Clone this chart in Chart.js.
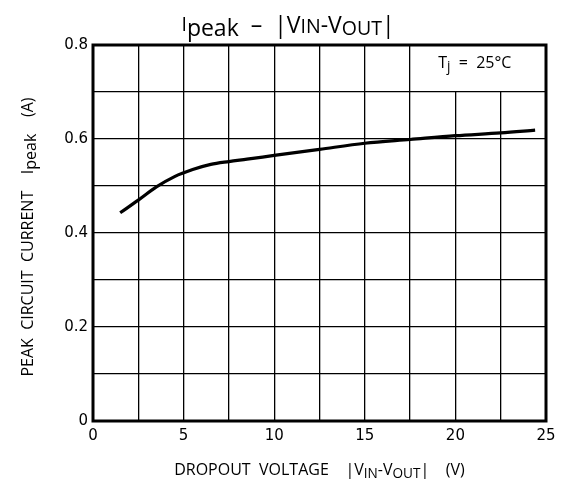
<!DOCTYPE html>
<html>
<head>
  <title>Ipeak - |VIN-VOUT|</title>
  <script src="https://cdn.jsdelivr.net/npm/chart.js"></script>
  <style>
    html, body { margin: 0; padding: 0; background: #fff; }
    #wrap { width: 568px; height: 484px; }
  </style>
</head>
<body>
  <div id="wrap"><canvas id="ipeakChart" width="568" height="484"></canvas></div>

  <script>
    // values
    const dropoutV = [1.5, 2.5, 3.5, 4.5, 5.5, 6.5, 7.5, 8.5, 10, 12.5, 15, 17.5, 20, 22.5, 24.4];
    const ipeakA = [0.443, 0.470, 0.498, 0.520, 0.535, 0.546, 0.552, 0.557, 0.565, 0.578, 0.591, 0.599, 0.607, 0.613, 0.619];
    const xTickLabels = [0, 5, 10, 15, 20, 25];
    const yTickLabels = ['0', '0.2', '0.4', '0.6', '0.8'];
    const TICK_FONT = '"DejaVu Sans", Verdana, sans-serif';
    const FONT = '"Open Sans", "Noto Sans", sans-serif';

    // draws text pieces, some of them as subscripts
    function drawParts(ctx, parts, x, y, size, align) {
      const widths = parts.map(p => {
        ctx.font = (p.sub ? size * 0.85 : size) + 'px ' + FONT;
        return ctx.measureText(p.t).width;
      });
      const total = widths.reduce((a, b) => a + b, 0);
      let cx = align === 'center' ? x - total / 2 : x;
      ctx.textBaseline = 'alphabetic';
      ctx.textAlign = 'left';
      parts.forEach((p, i) => {
        ctx.font = (p.sub ? size * 0.85 : size) + 'px ' + FONT;
        ctx.fillText(p.t, cx, y + (p.dy || 0));
        cx += widths[i];
      });
    }

    const decorations = {
      id: 'decorations',
      beforeDatasetsDraw(chart) {
        // clear grid behind the Tj note
        const { ctx, scales: { x, y } } = chart;
        ctx.save();
        ctx.fillStyle = '#fff';
        const x0 = x.getPixelForValue(17.5) + 1, x1 = x.getPixelForValue(25) - 1;
        const y0 = y.getPixelForValue(0.8) + 1, y1 = y.getPixelForValue(0.7) - 1;
        ctx.fillRect(x0, y0, x1 - x0, y1 - y0);
        ctx.restore();
      },
      afterDraw(chart) {
        const { ctx, chartArea: a, scales: { x, y } } = chart;
        ctx.save();
        ctx.strokeStyle = '#000';
        ctx.lineWidth = 3;
        ctx.strokeRect(a.left, a.top, a.right - a.left, a.bottom - a.top);

        ctx.fillStyle = '#000';
        // title
        drawParts(ctx, [
          { t: 'I', sub: true, dy: -2 }, { t: 'peak', dy: 3 }, { t: '  \u2013  |V' },
          { t: 'IN', sub: true }, { t: '-V' }, { t: 'OUT', sub: true, dy: 2 }, { t: '|' }
        ], 288, 33, 23, 'center');

        // x axis title
        drawParts(ctx, [
          { t: 'DROPOUT  VOLTAGE    |V' }, { t: 'IN', sub: true, dy: 3 }, { t: '-V' },
          { t: 'OUT', sub: true, dy: 3 }, { t: '|    (V)' }
        ], (a.left + a.right) / 2, 475, 16, 'center');

        // y axis title
        ctx.save();
        ctx.translate(33, (a.top + a.bottom) / 2 + 4);
        ctx.rotate(-Math.PI / 2);
        drawParts(ctx, [
          { t: 'PEAK  CIRCUIT  CURRENT    I' }, { t: 'peak', dy: 3 }, { t: '    (A)' }
        ], 0, 0, 16, 'center');
        ctx.restore();

        // Tj note
        drawParts(ctx, [
          { t: 'T' }, { t: 'j', sub: true, dy: 3 }, { t: '  =  25\u00b0C' }
        ], x.getPixelForValue(19.05), y.getPixelForValue(0.752), 16, 'left');
        ctx.restore();
      }
    };

    const ctx = document.getElementById('ipeakChart').getContext('2d');
    new Chart(ctx, {
      type: 'line',
      data: {
        datasets: [{
          data: dropoutV.map((v, i) => ({ x: v, y: ipeakA[i] })),
          borderColor: '#000',
          borderWidth: 3.2,
          pointRadius: 0,
          cubicInterpolationMode: 'monotone',
          fill: false
        }]
      },
      options: {
        responsive: false,
        animation: false,
        layout: { padding: { left: 30, top: 45, right: 22, bottom: 13 } },
        plugins: { legend: { display: false }, tooltip: { enabled: false } },
        scales: {
          x: {
            type: 'linear', min: 0, max: 25,
            afterFit: s => { s.height = 50; },
            border: { display: false },
            grid: { color: '#000', lineWidth: 1.3, drawTicks: false },
            ticks: {
              stepSize: 2.5, color: '#000', padding: 6, maxRotation: 0, autoSkip: false,
              font: { family: TICK_FONT, size: 15 },
              callback: v => xTickLabels.includes(v) ? String(v) : ''
            }
          },
          y: {
            type: 'linear', min: 0, max: 0.8,
            afterFit: s => { s.width = 63; },
            border: { display: false },
            grid: { color: '#000', lineWidth: 1.3, drawTicks: false },
            ticks: {
              stepSize: 0.1, color: '#000', padding: 5, autoSkip: false,
              font: { family: TICK_FONT, size: 15 },
              callback: v => {
                const k = Math.round(v * 10);
                return k % 2 === 0 ? yTickLabels[k / 2] : '';
              }
            }
          }
        }
      },
      plugins: [decorations]
    });
  </script>
</body>
</html>
